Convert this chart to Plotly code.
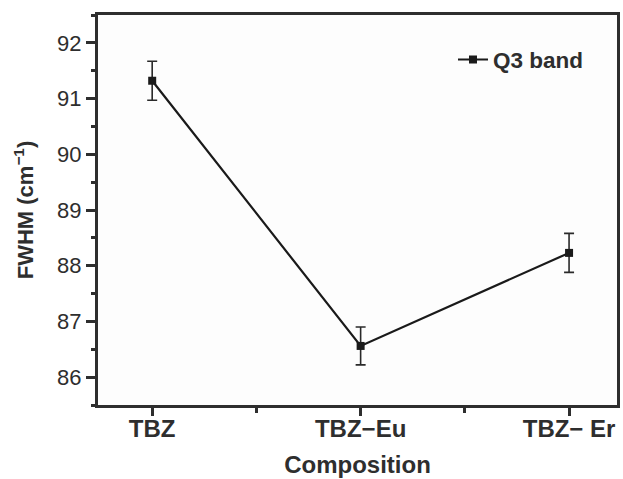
import plotly.graph_objects as go

categories = ["TBZ", "TBZ−Eu", "TBZ− Er"]
fwhm = [91.32, 86.56, 88.23]
fwhm_err = [0.35, 0.34, 0.35]
y_ticks = [86, 87, 88, 89, 90, 91, 92]

x_idx = list(range(len(categories)))
axis_color = "#2e2e2e"
font_family = "Liberation Sans, Arial, sans-serif"

fig = go.Figure()
fig.add_trace(go.Scatter(
    x=x_idx, y=fwhm,
    mode="lines+markers",
    name="<b>Q3 band</b>",
    line=dict(color="#1a1a1a", width=2.2),
    marker=dict(symbol="square", size=8, color="#1a1a1a"),
    error_y=dict(type="data", array=fwhm_err, visible=True,
                 color="#2a2a2a", thickness=1.6, width=5),
))

fig.update_layout(
    width=623, height=479,
    margin=dict(l=98, r=3, t=15, b=74),
    paper_bgcolor="white", plot_bgcolor="#fdfdfd",
    font=dict(family=font_family, color=axis_color, size=22),
    showlegend=True,
    legend=dict(x=0.684, y=0.885, xanchor="left", yanchor="middle",
                bgcolor="rgba(0,0,0,0)", font=dict(size=22.5, color=axis_color),
                itemwidth=30),
)
fig.update_xaxes(
    range=[-0.26, 2.23],
    tickmode="array", tickvals=x_idx,
    ticktext=["<b>%s</b>" % c for c in categories],
    tickfont=dict(size=24),
    ticklabelstandoff=-8,
    ticks="outside", ticklen=8, tickwidth=2.5, tickcolor=axis_color,
    minor=dict(tickvals=[0.5, 1.5], ticks="outside", ticklen=5, tickwidth=2.5, tickcolor=axis_color),
    showline=True, linewidth=3, linecolor=axis_color, mirror=True,
    showgrid=False, zeroline=False,
    title=dict(text="<b>Composition</b>", font=dict(size=24), standoff=16),
)
fig.update_yaxes(
    range=[85.5, 92.5],
    tickmode="array", tickvals=y_ticks,
    tickfont=dict(size=22),
    ticks="outside", ticklen=9, tickwidth=2.5, tickcolor=axis_color,
    minor=dict(dtick=0.5, tick0=85.5, ticks="outside", ticklen=4, tickwidth=2.5, tickcolor=axis_color),
    showline=True, linewidth=3, linecolor=axis_color, mirror=True,
    showgrid=False, zeroline=False,
    title=dict(text="<b>FWHM (cm<sup>−1</sup>)</b>", font=dict(size=22), standoff=18),
)

fig.write_html("out.html")
